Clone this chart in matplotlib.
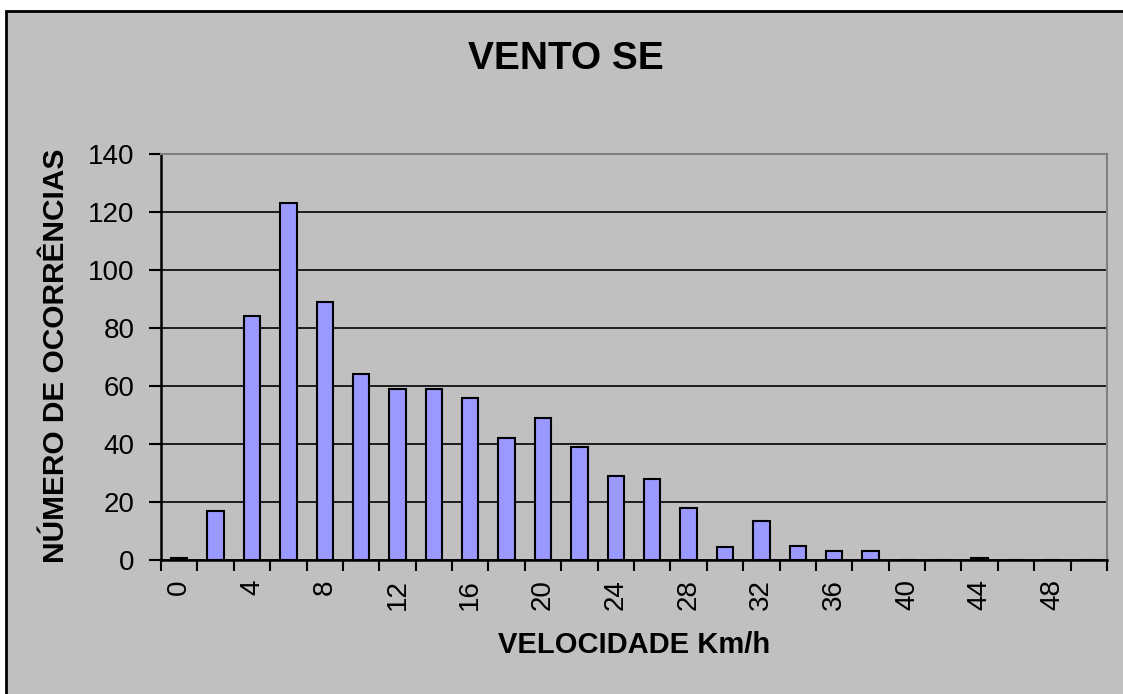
import matplotlib
matplotlib.use("Agg")
import matplotlib.pyplot as plt
from matplotlib.patches import Rectangle
from matplotlib.ticker import FixedLocator, NullFormatter

plt.rcParams['font.family'] = ['Liberation Sans', 'DejaVu Sans']

# Data
speeds = [0, 2, 4, 6, 8, 10, 12, 14, 16, 18, 20, 22, 24, 26, 28, 30, 32, 34, 36, 38, 40, 42, 44, 46, 48, 50]
counts = [0.6, 17, 84, 123, 89, 64, 59, 59, 56, 42, 49, 39, 29, 28, 18, 4.5, 13.5, 5, 3, 3, 0, 0, 0.6, 0, 0, 0]
tick_labels = ['0', '4', '8', '12', '16', '20', '24', '28', '32', '36', '40', '44', '48']
title = 'VENTO SE'
xlabel = 'VELOCIDADE Km/h'
ylabel = 'NÚMERO DE OCORRÊNCIAS'

W, H = 1123, 694
fig = plt.figure(figsize=(W / 100, H / 100), dpi=100)
fig.patch.set_facecolor('white')

# outer chart area (gray with black border on left/top; right/bottom edges lie outside the image)
bg = Rectangle((6 / W, 1 - 760 / H), 1200 / W, 749 / H, transform=fig.transFigure,
               facecolor='#C0C0C0', edgecolor='black', linewidth=2, clip_on=False, zorder=-10)
fig.patches.append(bg)

ax = fig.add_axes([161 / W, 1 - 560 / H, (1107 - 161) / W, (560 - 154) / H])
ax.set_facecolor('#C0C0C0')

x = list(range(len(speeds)))
ax.bar(x, counts, width=0.45, color='#9999FF', edgecolor='black', linewidth=1.5, zorder=3)

ax.set_xlim(-0.5, len(speeds) - 0.5)
ax.set_ylim(0, 140)
ax.set_yticks(range(0, 141, 20))
ax.yaxis.grid(True, color='black', linewidth=1.2, zorder=0)
ax.set_axisbelow(True)

# x ticks: labels every second category, tick marks at category boundaries
ax.xaxis.set_major_locator(FixedLocator([i for i in x if i % 2 == 0][:len(tick_labels)]))
ax.set_xticklabels(tick_labels, rotation=90, fontsize=20)
ax.tick_params(axis='x', which='major', length=0, pad=14)
ax.xaxis.set_minor_locator(FixedLocator([i - 0.5 for i in range(len(speeds) + 1)]))
ax.xaxis.set_minor_formatter(NullFormatter())
ax.tick_params(axis='x', which='minor', length=8, width=1.5, direction='out', color='black')
ax.tick_params(axis='y', length=9, width=1.5, direction='out', labelsize=20, pad=10)

for s in ['left', 'bottom']:
    ax.spines[s].set_color('black')
    ax.spines[s].set_linewidth(1.8)
for s in ['top', 'right']:
    ax.spines[s].set_color('#808080')
    ax.spines[s].set_linewidth(1.5)

fig.text(566 / W, 1 - 59 / H, title, ha='center', va='center', fontsize=28, fontweight='bold')
fig.text(634 / W, 1 - 645 / H, xlabel, ha='center', va='center', fontsize=21, fontweight='bold')
fig.text(56 / W, 1 - 356 / H, ylabel, ha='center', va='center', rotation=90, fontsize=21.5, fontweight='bold')

fig.savefig('out.png', dpi=100, facecolor=fig.get_facecolor())
